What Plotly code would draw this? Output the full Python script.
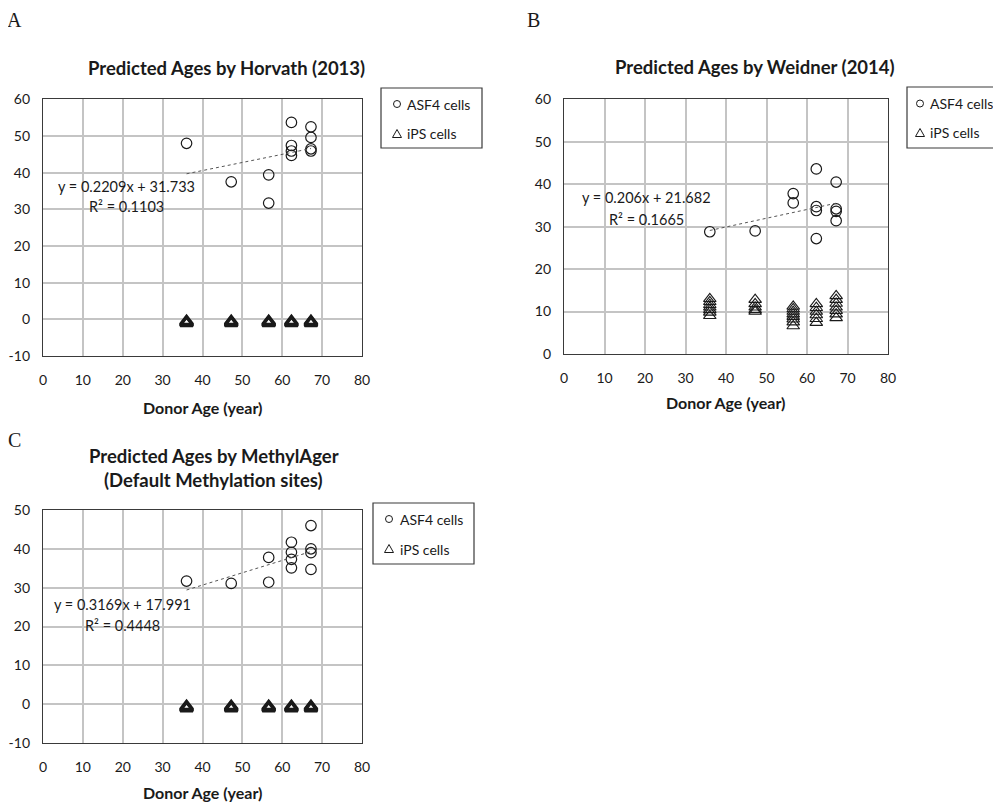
import plotly.graph_objects as go

# page is drawn inside the default 8px body margin
OFF = 8
W, H = 1005, 794

# ---------------- data ----------------
donor_ages = [36, 47.2, 56.6, 62.3, 67.2]

asf4_x = [36, 47.2, 56.6, 56.6, 62.3, 62.3, 62.3, 62.3, 67.2, 67.2, 67.2, 67.2]

horvath_asf4 = [48.0, 37.5, 39.4, 31.7, 53.7, 47.4, 45.9, 44.7, 52.5, 49.6, 46.5, 45.9]
weidner_asf4 = [28.8, 29.0, 37.8, 35.6, 43.6, 34.7, 33.8, 27.2, 40.5, 34.2, 33.6, 31.4]
methylager_asf4 = [31.7, 31.1, 37.8, 31.4, 41.7, 39.1, 37.3, 35.1, 46.0, 40.0, 39.0, 34.7]

horvath_ips = {36: [-0.5, -0.7, -0.9, -1.1], 47.2: [-0.5, -0.7, -0.9, -1.1],
               56.6: [-0.5, -0.7, -0.9, -1.1], 62.3: [-0.5, -0.7, -0.9, -1.1],
               67.2: [-0.5, -0.7, -0.9, -1.1]}
weidner_ips = {36: [13.0, 12.3, 11.6, 11.0, 10.4, 9.8, 9.0],
               47.2: [12.8, 11.8, 11.0, 10.4, 10.0],
               56.6: [11.2, 10.6, 10.0, 9.4, 8.8, 8.2, 7.5, 6.6],
               62.3: [11.8, 10.9, 10.0, 9.2, 8.3, 7.4],
               67.2: [13.7, 12.8, 11.9, 11.0, 10.2, 9.4, 8.5]}
methylager_ips = {36: [-0.5, -0.7, -0.9, -1.1], 47.2: [-0.5, -0.7, -0.9, -1.1],
                  56.6: [-0.5, -0.7, -0.9, -1.1], 62.3: [-0.5, -0.7, -0.9, -1.1],
                  67.2: [-0.5, -0.7, -0.9, -1.1]}

fits = {"A": (0.2209, 31.733, "y = 0.2209x + 31.733", "R² = 0.1103"),
        "B": (0.206, 21.682, "y = 0.206x + 21.682", "R² = 0.1665"),
        "C": (0.3169, 17.991, "y = 0.3169x + 17.991", "R² = 0.4448")}

titles = {"A": "Predicted Ages by Horvath (2013)",
          "B": "Predicted Ages by Weidner (2014)",
          "C1": "Predicted Ages by MethylAger",
          "C2": "(Default Methylation sites)"}

series_names = ["ASF4 cells", "iPS cells"]
x_ticks = [0, 10, 20, 30, 40, 50, 60, 70, 80]
y_ticks = {"A": [-10, 0, 10, 20, 30, 40, 50, 60],
           "B": [0, 10, 20, 30, 40, 50, 60],
           "C": [-10, 0, 10, 20, 30, 40, 50]}

# ---------------- layout helpers (target page pixels) ----------------
def px(x):
    return (x - OFF) / W

def py(y):
    return 1 - (y - OFF) / H

FONT = "Lato, 'Open Sans', sans-serif"
TXT = "#1a1a1a"

panels = {
    "A": ("", 43, 362, 99.3, 356, horvath_asf4, horvath_ips),
    "B": ("2", 564, 888, 99.3, 354, weidner_asf4, weidner_ips),
    "C": ("3", 43, 362, 510, 743, methylager_asf4, methylager_ips),
}

fig = go.Figure()
layout = dict(width=W, height=H, margin=dict(l=0, r=0, t=0, b=0, autoexpand=False),
              paper_bgcolor="white", plot_bgcolor="white", showlegend=False,
              font=dict(family=FONT, color=TXT, size=14), annotations=[], shapes=[])

for name, (suf, x0, x1, yt, yb, asf4, ips) in panels.items():
    xa = "x" + suf
    ya = "y" + suf
    yt_vals = y_ticks[name]
    axis_common = dict(showgrid=True, gridcolor="#c4c4c4", gridwidth=1.5,
                       zeroline=False, showline=True, linecolor="#3a3a3a",
                       linewidth=1.3, mirror=True, ticks="outside",
                       tickcolor="rgba(0,0,0,0)", automargin=False,
                       tickfont=dict(family=FONT, size=14, color=TXT))
    layout["xaxis" + suf] = dict(domain=[px(x0), px(x1)], range=[0, 80],
                                 tickvals=x_ticks, ticktext=[str(v) for v in x_ticks],
                                 ticklen=11, anchor=ya, **axis_common)
    layout["yaxis" + suf] = dict(domain=[py(yb), py(yt)],
                                 range=[yt_vals[0], yt_vals[-1]],
                                 tickvals=yt_vals, ticktext=[str(v) for v in yt_vals],
                                 ticklen=9, anchor=xa, **axis_common)

    fig.add_trace(go.Scatter(x=asf4_x, y=asf4, mode="markers", xaxis=xa, yaxis=ya,
                             name=series_names[0],
                             marker=dict(symbol="circle-open", size=10.5,
                                         color="#1a1a1a", line=dict(width=1.2)),
                             hoverinfo="x+y"))
    ix, iy = [], []
    for age in donor_ages:
        for v in ips[age]:
            ix.append(age)
            iy.append(v)
    tw = 2.4 if name in ("A", "C") else 1.1
    fig.add_trace(go.Scatter(x=ix, y=iy, mode="markers", xaxis=xa, yaxis=ya,
                             name=series_names[1],
                             marker=dict(symbol="triangle-up-open", size=11,
                                         color="#1a1a1a", line=dict(width=tw)),
                             hoverinfo="x+y"))
    slope, icpt, eq, r2 = fits[name]
    tx = [min(asf4_x), max(asf4_x)]
    ty = [slope * v + icpt for v in tx]
    fig.add_trace(go.Scatter(x=tx, y=ty, mode="lines", xaxis=xa, yaxis=ya,
                             name="Linear (" + series_names[0] + ")",
                             line=dict(color="#555555", width=1, dash="dot"),
                             hoverinfo="skip"))

ann = layout["annotations"]
shapes = layout["shapes"]

def add_text(text, cx, cy, size, family=FONT, anchor="center"):
    ann.append(dict(text=text, x=px(cx), y=py(cy), xref="paper", yref="paper",
                    xanchor=anchor, yanchor="middle", showarrow=False,
                    font=dict(family=family, size=size, color=TXT)))

# legends (Excel-style boxed keys): box, symbol centre x, text x, row ys
legend_boxes = {
    "A": ((381, 88, 482, 148), 397, 405, (104, 134)),
    "B": ((907, 87, 1020, 148), 920, 928, (103.5, 133)),
    "C": ((373, 503, 474, 564), 389, 398, (519, 549)),
}
for name, ((bx0, by0, bx1, by1), mx, tx0, (r1, r2)) in legend_boxes.items():
    shapes.append(dict(type="rect", xref="paper", yref="paper",
                       x0=px(bx0), x1=px(bx1), y0=py(by1), y1=py(by0),
                       line=dict(color="#3a3a3a", width=1.2), fillcolor="white",
                       layer="above"))
    shapes.append(dict(type="circle", xref="paper", yref="paper",
                       x0=px(mx - 3.5), x1=px(mx + 3.5), y0=py(r1 + 3.5), y1=py(r1 - 3.5),
                       line=dict(color="#1a1a1a", width=1), layer="above"))
    tri = "M {} {} L {} {} L {} {} Z".format(px(mx), py(r2 - 4.5), px(mx - 4.5),
                                             py(r2 + 3.5), px(mx + 4.5), py(r2 + 3.5))
    shapes.append(dict(type="path", xref="paper", yref="paper", path=tri,
                       line=dict(color="#1a1a1a", width=1), layer="above"))
    add_text(series_names[0], tx0, r1, 14, anchor="left")
    add_text(series_names[1], tx0, r2, 14, anchor="left")

for lbl, (lx, ly) in {"A": (14, 20), "B": (533, 20), "C": (14, 440)}.items():
    add_text(lbl, lx, ly, 20, "Liberation Serif, serif")
add_text("<b>" + titles["A"] + "</b>", 226, 68, 18.5)
add_text("<b>" + titles["B"] + "</b>", 755, 67, 18.5)
add_text("<b>" + titles["C1"] + "</b>", 214, 456, 18.5)
add_text("<b>" + titles["C2"] + "</b>", 213, 480, 18.5)
for cx, cy in [(203, 407), (726, 403), (203, 792)]:
    add_text("<b>Donor Age (year)</b>", cx, cy, 16)
for lbl, (cx, y1, y2) in {"A": (126, 186, 207), "B": (646, 198, 220),
                           "C": (122, 604, 625)}.items():
    _, _, eq, r2 = fits[lbl]
    add_text(eq, cx, y1, 14.5)
    add_text(r2, cx, y2, 14.5)

fig.update_layout(**layout)
fig.write_html("out.html")
